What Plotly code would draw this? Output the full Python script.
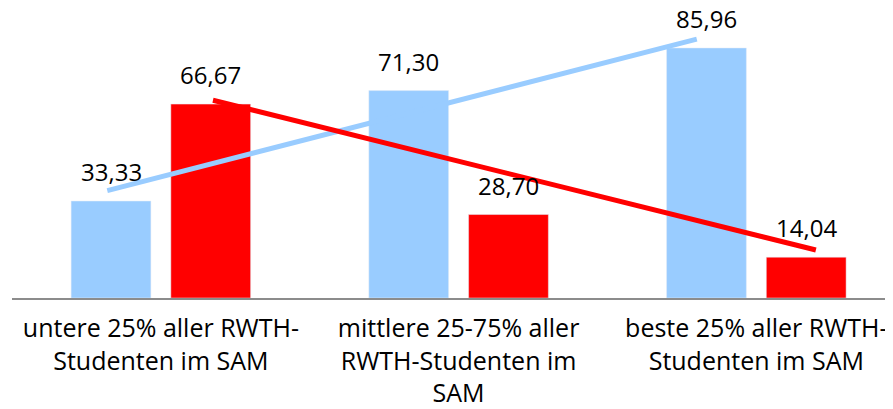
import plotly.graph_objects as go

# ─── Daten ───────────────────────────────────────────────────────────────────

KATEGORIEN = [
    "untere 25% aller RWTH-<br>Studenten im SAM",
    "mittlere 25-75% aller<br>RWTH-Studenten im<br>SAM",
    "beste 25% aller RWTH-<br>Studenten im SAM",
]
WERTE_BLAU = [33.33, 71.30, 85.96]
WERTE_ROT = [66.67, 28.70, 14.04]

# Trendlinien
TREND_BLAU_X = [-0.18, 1.80]
TREND_BLAU_Y = [36.9, 89.0]
TREND_ROT_X = [0.175, 2.20]
TREND_ROT_Y = [68.0, 16.5]

FARBE_BLAU = "#99CCFF"
FARBE_ROT = "#FF0000"
FONT = "Open Sans, sans-serif"

BARGAP = 0.33
GROUPGAP = 0.2
VERSATZ = (1 - BARGAP) / 4  # Mitte der Balken relativ zur Kategorie

pos = list(range(len(KATEGORIEN)))

fig = go.Figure()
fig.add_trace(go.Bar(x=pos, y=WERTE_BLAU, marker=dict(color=FARBE_BLAU), name="blau"))
fig.add_trace(go.Bar(x=pos, y=WERTE_ROT, marker=dict(color=FARBE_ROT), name="rot"))

fig.add_trace(
    go.Scatter(x=TREND_BLAU_X, y=TREND_BLAU_Y, mode="lines",
               line=dict(color=FARBE_BLAU, width=5))
)
fig.add_trace(
    go.Scatter(x=TREND_ROT_X, y=TREND_ROT_Y, mode="lines",
               line=dict(color=FARBE_ROT, width=5))
)

# Datenbeschriftungen mit Dezimalkomma
annots = []
for werte, vz in ((WERTE_BLAU, -1), (WERTE_ROT, 1)):
    for k, v in zip(pos, werte):
        annots.append(
            dict(
                x=k + vz * VERSATZ,
                y=v,
                text=f"{v:.2f}".replace(".", ","),
                showarrow=False,
                yanchor="bottom",
                yshift=11,
                font=dict(family=FONT, size=24, color="#000000"),
            )
        )

fig.update_layout(
    width=885,
    height=401,
    margin=dict(l=4, r=0, t=0, b=111),
    paper_bgcolor="white",
    plot_bgcolor="white",
    barmode="group",
    bargap=BARGAP,
    bargroupgap=GROUPGAP,
    showlegend=False,
    annotations=annots,
    font=dict(family=FONT, size=24, color="#000000"),
)
fig.update_xaxes(
    range=[-0.5, 2.459],
    tickvals=pos,
    ticktext=KATEGORIEN,
    showline=True,
    linecolor="#8C8C8C",
    linewidth=2,
    showgrid=False,
    zeroline=False,
    ticks="",
    automargin=False,
    ticklabelstandoff=7,
    tickfont=dict(family=FONT, size=25, color="#000000"),
)
fig.update_yaxes(range=[0, 99.7], visible=False, showgrid=False)

fig.write_html("out.html")
